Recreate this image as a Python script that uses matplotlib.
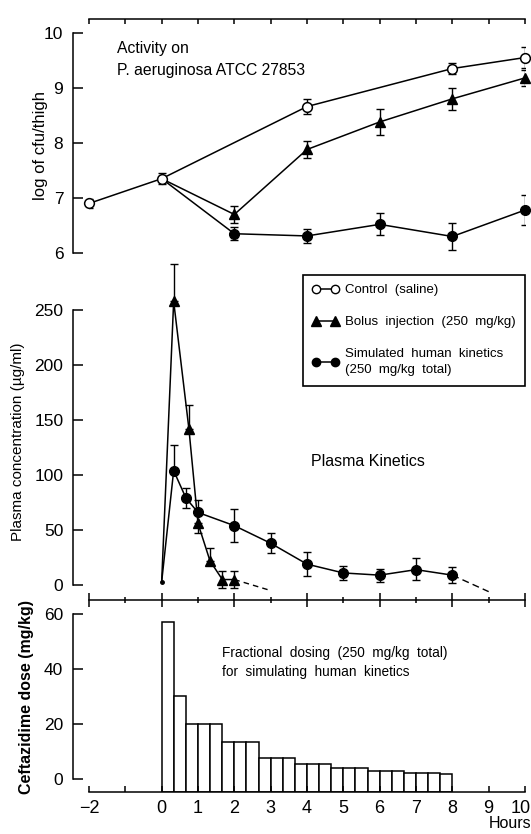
import matplotlib
matplotlib.use("Agg")
import matplotlib.pyplot as plt
import matplotlib.font_manager as fm
import matplotlib.transforms as mtransforms
from matplotlib.lines import Line2D
import numpy as np

# pick a narrow font if there is one
names = {f.name for f in fm.fontManager.ttflist}
if "Liberation Sans Narrow" in names:
    fam = "Liberation Sans Narrow"
else:
    fam = "Liberation Sans"
plt.rcParams["font.family"] = [fam, "DejaVu Sans"]

# ---- data: activity (log cfu/thigh) ----
t_ctrl = [-2, 0, 4, 8, 10]
cfu_ctrl = [6.9, 7.35, 8.66, 9.35, 9.55]
cfu_ctrl_err = [0.08, 0.1, 0.13, 0.1, 0.19]

t_treat = [0, 2, 4, 6, 8, 10]
cfu_bolus = [7.35, 6.7, 7.88, 8.38, 8.8, 9.18]
cfu_bolus_err = [0, 0.15, 0.15, 0.24, 0.2, 0.15]
cfu_sim = [7.35, 6.35, 6.31, 6.52, 6.3, 6.78]
cfu_sim_err = [0, 0.12, 0.12, 0.2, 0.25, 0.28]

# ---- data: plasma kinetics (ug/ml) ----
t_bolus = [0, 0.33, 0.75, 1.0, 1.33, 1.67, 2.0]
conc_bolus = [3, 258, 142, 56, 22, 5, 5]
bolus_lo = [0, 0, 0, 9, 0, 8, 8]
bolus_hi = [0, 34, 22, 0, 12, 8, 8]
tail_bolus_t = [2.0, 3.0]
tail_bolus = [5, -5]

t_sim = [0, 0.33, 0.67, 1, 2, 3, 4, 5, 6, 7, 8]
conc_sim = [3, 104, 79, 66, 54, 38, 19, 11, 9, 14, 9]
sim_lo = [0, 0, 9, 0, 15, 9, 11, 6, 6, 9, 7]
sim_hi = [0, 23, 9, 11, 15, 9, 11, 6, 6, 11, 7]
tail_sim_t = [8, 9]
tail_sim = [9, -6]

# ---- data: fractional doses (mg/kg), one every 20 min ----
dose_t = [i / 3 for i in range(24)]
dose = [57, 30, 20, 20, 20, 13.4, 13.4, 13.4, 7.7, 7.7, 7.7, 5.5, 5.5, 5.5,
        3.9, 3.9, 3.9, 2.9, 2.9, 2.9, 2.1, 2.1, 2.1, 1.7]

W, H = 531, 834
fig = plt.figure(figsize=(W / 100, H / 100), dpi=100)

def fx(px):
    return px / W

def fy(py):
    return 1 - py / H

left = fx(89)
width = fx(525) - fx(89)
lw = 1.1
out = 11.5  # points, left spine offset

def style_left(ax, lo, hi, ticks):
    ax.spines["left"].set_position(("outward", out))
    ax.spines["left"].set_bounds(lo, hi)
    ax.spines["right"].set_visible(False)
    ax.set_yticks(ticks)
    ax.tick_params(axis="y", direction="in", length=7, width=lw, pad=7, labelsize=12.5)
    for s in ax.spines.values():
        s.set_linewidth(lw)

eb = dict(fmt="none", ecolor="black", elinewidth=1, capsize=3, capthick=1)

# ---------------- top panel ----------------
ax1 = fig.add_axes([left, fy(253), width, fy(19) - fy(253)])
ax1.set_xlim(-2, 10)
ax1.set_ylim(6, 10.25)
style_left(ax1, 6, 10, [6, 7, 8, 9, 10])
ax1.spines["bottom"].set_visible(False)
ax1.xaxis.tick_top()
ax1.set_xticks(range(-2, 11))
ax1.tick_params(axis="x", direction="in", length=3.5, width=lw, labeltop=False)

mk = dict(color="black", lw=lw, clip_on=False)
ax1.errorbar(t_treat[1:], cfu_sim[1:], yerr=cfu_sim_err[1:], **eb)
ax1.plot(t_treat, cfu_sim, "-o", ms=7, mfc="black", markevery=range(1, 6), **mk)
ax1.errorbar(t_treat[1:], cfu_bolus[1:], yerr=cfu_bolus_err[1:], **eb)
ax1.plot(t_treat, cfu_bolus, "-^", ms=7.5, mfc="black", markevery=range(1, 6), **mk)
ax1.errorbar(t_ctrl, cfu_ctrl, yerr=cfu_ctrl_err, **eb)
ax1.plot(t_ctrl, cfu_ctrl, "-o", ms=7, mfc="white", mew=1.1, **mk)

fig.text(fx(117), fy(48), "Activity on", fontsize=11.3, va="center")
fig.text(fx(117), fy(71), "P. aeruginosa ATCC 27853", fontsize=11.3, va="center")
fig.text(fx(40), fy(145), "log of cfu/thigh", fontsize=12, rotation=90,
         ha="center", va="center")

# ---------------- middle panel ----------------
ax2 = fig.add_axes([left, fy(600), width, fy(265) - fy(600)])
ax2.set_xlim(-2, 10)
ax2.set_ylim(-13.6, 291)
style_left(ax2, 0, 250, [0, 50, 100, 150, 200, 250])
ax2.spines["top"].set_visible(False)
ax2.set_xticks(range(-2, 11, 2))
ax2.set_xticks(range(-1, 11, 2), minor=True)
ax2.tick_params(axis="x", which="major", direction="inout", length=10, width=lw,
                labelbottom=False)
ax2.tick_params(axis="x", which="minor", direction="inout", length=5, width=lw)

ax2.errorbar(t_sim[1:], conc_sim[1:], yerr=[sim_lo[1:], sim_hi[1:]], **eb)
ax2.errorbar(t_bolus[1:], conc_bolus[1:], yerr=[bolus_lo[1:], bolus_hi[1:]], **eb)
for c in ax2.lines + ax2.collections:
    c.set_clip_on(False)
ax2.plot(t_sim, conc_sim, "-o", ms=7, mfc="black", markevery=range(1, 11), **mk)
ax2.plot(t_bolus, conc_bolus, "-^", ms=7.5, mfc="black", markevery=range(1, 7), **mk)
ax2.plot(t_sim[:1], conc_sim[:1], "o", ms=2.5, color="black")
ax2.plot(tail_bolus_t, tail_bolus, "--", color="black", lw=1, dashes=(4, 3))
ax2.plot(tail_sim_t, tail_sim, "--", color="black", lw=1, dashes=(5, 3))

fig.text(fx(368), fy(462), "Plasma Kinetics", fontsize=11.5, ha="center", va="center")
fig.text(fx(18), fy(442), "Plasma concentration (\u00b5g/ml)", fontsize=11,
         rotation=90, ha="center", va="center")

handles = [
    Line2D([], [], color="black", lw=lw, marker="o", ms=6, mfc="white"),
    Line2D([], [], color="black", lw=lw, marker="^", ms=6.5, mfc="black"),
    Line2D([], [], color="black", lw=lw, marker="o", ms=6, mfc="black"),
]
labels = ["Control  (saline)", "Bolus  injection  (250  mg/kg)",
          "Simulated  human  kinetics\n(250  mg/kg  total)"]
leg = ax2.legend(handles, labels, loc="upper right", numpoints=2,
                 bbox_to_anchor=(fx(525), fy(275)), bbox_transform=fig.transFigure,
                 borderaxespad=0, fontsize=9.5, handlelength=2.0, handletextpad=0.5,
                 labelspacing=1.5, borderpad=0.7, fancybox=False, framealpha=1)
leg.get_frame().set_edgecolor("black")
leg.get_frame().set_linewidth(1.2)
leg.get_texts()[2].set_linespacing(1.45)

# ---------------- bottom panel ----------------
ax3 = fig.add_axes([left, fy(792), width, fy(608) - fy(792)])
ax3.set_xlim(-2, 10)
ax3.set_ylim(-4.7, 62)
style_left(ax3, 0, 60, [0, 20, 40, 60])
ax3.spines["top"].set_visible(False)
ax3.bar(dose_t, np.array(dose) + 4.7, bottom=-4.7, width=1 / 3, align="edge",
        facecolor="white", edgecolor="black", lw=1.1)
ax3.set_xticks(range(-2, 11))
ax3.set_xticklabels(["\u22122", ""] + [str(i) for i in range(0, 11)])
ax3.tick_params(axis="x", direction="in", length=4, width=lw, pad=6, labelsize=13)
# keep the last label just inside the picture
last = ax3.get_xticklabels()[-1]
last.set_transform(last.get_transform() +
                   mtransforms.ScaledTranslation(-4 / 100, 0, fig.dpi_scale_trans))

fig.text(fx(222), fy(653), "Fractional  dosing  (250  mg/kg  total)", fontsize=9.8,
         va="center")
fig.text(fx(222), fy(672), "for  simulating  human  kinetics", fontsize=9.8,
         va="center")
fig.text(fx(27), fy(697), "Ceftazidime dose (mg/kg)", fontsize=11.5, rotation=90,
         ha="center", va="center", fontweight="bold")
fig.text(fx(531), fy(824), "Hours", fontsize=11.5, ha="right", va="center")

fig.savefig("out.png", dpi=100)
